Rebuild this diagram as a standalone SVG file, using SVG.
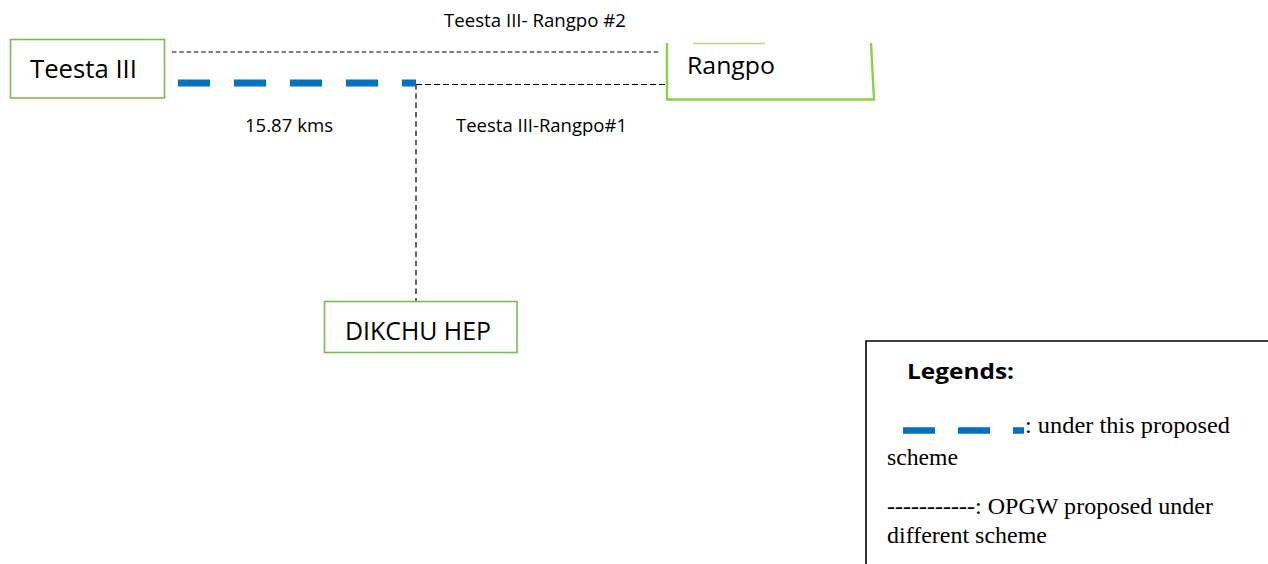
<svg xmlns="http://www.w3.org/2000/svg" width="1268" height="564" viewBox="0 0 1268 564">
<style>
.node{fill:#fff;stroke:#7DB856;stroke-width:1.6}
.lbl{font-family:"Open Sans","Liberation Sans",sans-serif;fill:#000}
.thin{stroke:#000;stroke-width:1.2;fill:none}
.blue{stroke:#0070C0;stroke-width:7;fill:none}
.serif{font-family:"Liberation Serif","Times New Roman",serif;fill:#000;font-size:23.5px}
</style>
<rect width="1268" height="564" fill="#fff"/>
<g id="connectors">
<line class="thin" x1="172" y1="52" x2="660" y2="52" stroke-dasharray="4.5 2.8"/>
<line class="thin" x1="416" y1="84.5" x2="666" y2="84.5" stroke-dasharray="6 3"/>
<line class="thin" x1="416" y1="84" x2="416" y2="301" stroke-dasharray="5.5 3.8"/>
<line class="blue" x1="178" y1="83" x2="416" y2="83" stroke-dasharray="32 24"/>
</g>
<g id="teesta3">
<rect class="node" x="10.5" y="39.5" width="154" height="58.5"/>
<text class="lbl" x="30" y="77.5" font-size="25.5" textLength="107" lengthAdjust="spacingAndGlyphs">Teesta III</text>
</g>
<g id="rangpo">
<path d="M667 43 L667 99.5 L874 99.5 L871 43" fill="none" stroke="#8CD04A" stroke-width="2.4"/>
<line x1="693" y1="43.5" x2="765" y2="43.5" stroke="#8CD04A" stroke-width="1.5" opacity="0.7"/>
<text class="lbl" x="687" y="73.5" font-size="24" textLength="88" lengthAdjust="spacingAndGlyphs">Rangpo</text>
</g>
<g id="dikchu">
<rect class="node" x="324.5" y="301.5" width="192.5" height="51"/>
<text class="lbl" x="345" y="340" font-size="25" textLength="146" lengthAdjust="spacingAndGlyphs">DIKCHU HEP</text>
</g>
<g id="labels">
<text class="lbl" x="444" y="26.5" font-size="17.5" textLength="182" lengthAdjust="spacingAndGlyphs">Teesta III- Rangpo #2</text>
<text class="lbl" x="245" y="131.5" font-size="17.5" textLength="88" lengthAdjust="spacingAndGlyphs">15.87 kms</text>
<text class="lbl" x="456" y="131.5" font-size="17.5" textLength="171" lengthAdjust="spacingAndGlyphs">Teesta III-Rangpo#1</text>
</g>
<g id="legend">
<path d="M866 564 L866 341 L1270 341" fill="none" stroke="#000" stroke-width="1.6"/>
<text class="lbl" x="907" y="379" font-size="22" font-weight="bold" textLength="107" lengthAdjust="spacingAndGlyphs">Legends:</text>
<line x1="903" y1="430.5" x2="1024" y2="430.5" stroke="#0070C0" stroke-width="6.5" stroke-dasharray="32 23"/>
<text class="serif" x="1025" y="433" textLength="205" lengthAdjust="spacingAndGlyphs">: under this proposed</text>
<text class="serif" x="887" y="465" textLength="71" lengthAdjust="spacingAndGlyphs">scheme</text>
<text class="serif" x="887" y="514" textLength="326" lengthAdjust="spacingAndGlyphs">-----------: OPGW proposed under</text>
<text class="serif" x="887" y="543" textLength="160" lengthAdjust="spacingAndGlyphs">different scheme</text>
</g>
</svg>
